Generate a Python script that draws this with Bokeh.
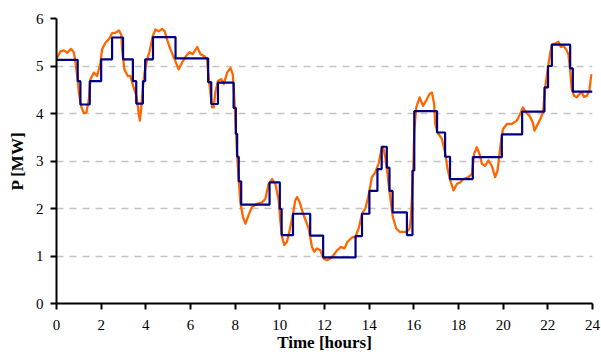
from bokeh.plotting import figure
from bokeh.models import Range1d, FixedTicker
from bokeh.embed import file_html
from bokeh.resources import INLINE

# Measured power (orange)
meas_hours = [0.0, 0.18, 0.33, 0.48, 0.66, 0.78, 0.85, 0.93, 1.0, 1.1, 1.22, 1.34, 1.45, 1.52, 1.67, 1.82,
              1.97, 2.04, 2.19, 2.34, 2.49, 2.64, 2.79, 2.9, 2.94, 3.04, 3.19, 3.31, 3.43, 3.58, 3.68, 3.73,
              3.79, 3.85, 3.94, 4.06, 4.17, 4.31, 4.43, 4.58, 4.73, 4.85, 4.95, 5.1, 5.29, 5.47, 5.62, 5.8,
              5.95, 6.1, 6.3, 6.44, 6.64, 6.74, 6.79, 6.89, 6.97, 7.04, 7.11, 7.23, 7.38, 7.49, 7.64, 7.79,
              7.89, 7.95, 8.01, 8.08, 8.16, 8.23, 8.35, 8.46, 8.6, 8.75, 8.98, 9.2, 9.35, 9.5, 9.65, 9.8,
              9.95, 10.02, 10.1, 10.2, 10.32, 10.44, 10.59, 10.69, 10.77, 10.89, 11.04, 11.19, 11.29, 11.44,
              11.54, 11.66, 11.81, 11.96, 12.11, 12.33, 12.56, 12.74, 12.89, 13.03, 13.23, 13.38, 13.53,
              13.68, 13.83, 13.97, 14.12, 14.27, 14.42, 14.54, 14.62, 14.72, 14.82, 14.94, 15.06, 15.21,
              15.36, 15.54, 15.69, 15.81, 15.87, 15.93, 15.97, 16.02, 16.11, 16.26, 16.41, 16.55, 16.7,
              16.81, 16.91, 16.96, 17.06, 17.26, 17.4, 17.51, 17.63, 17.78, 17.93, 18.08, 18.22, 18.45,
              18.6, 18.7, 18.82, 18.94, 19.05, 19.19, 19.34, 19.49, 19.64, 19.75, 19.87, 19.99, 20.17,
              20.39, 20.61, 20.76, 20.88, 21.03, 21.18, 21.33, 21.4, 21.51, 21.66, 21.78, 21.85, 21.91,
              22.0, 22.1, 22.18, 22.33, 22.48, 22.58, 22.7, 22.82, 22.92, 23.0, 23.07, 23.18, 23.3, 23.41,
              23.52, 23.62, 23.74, 23.86, 23.92, 23.96]
meas_mw = [5.15, 5.31, 5.33, 5.28, 5.36, 5.28, 5.07, 4.79, 4.44, 4.16, 4.01, 4.02, 4.3, 4.72, 4.86, 4.79,
           5.07, 5.35, 5.49, 5.56, 5.69, 5.7, 5.75, 5.66, 5.35, 4.93, 4.79, 4.79, 4.58, 4.37, 4.02, 3.85,
           4.09, 4.44, 4.86, 5.14, 5.31, 5.63, 5.77, 5.73, 5.78, 5.73, 5.56, 5.35, 5.14, 4.93, 5.07, 5.21,
           5.29, 5.25, 5.4, 5.25, 5.2, 5.14, 4.86, 4.44, 4.13, 4.13, 4.44, 4.69, 4.72, 4.62, 4.86, 4.96,
           4.83, 4.44, 3.88, 3.18, 2.62, 2.13, 1.82, 1.68, 1.86, 2.03, 2.1, 2.13, 2.2, 2.52, 2.62, 2.52,
           2.17, 1.75, 1.4, 1.23, 1.3, 1.54, 1.89, 2.17, 2.24, 2.13, 1.89, 1.71, 1.58, 1.19,
           1.09, 1.16, 1.12, 0.95, 0.91, 0.97, 1.12, 1.19, 1.16, 1.3, 1.39, 1.4, 1.58,
           1.89, 2.0, 2.27, 2.66, 2.76, 2.94, 3.22, 3.3, 3.08, 2.73, 2.24, 1.82, 1.58,
           1.51, 1.51, 1.51, 1.58, 1.82, 2.38, 2.8, 3.64, 4.13, 4.34, 4.16, 4.27, 4.41,
           4.44, 4.2, 3.78, 3.6, 3.46, 3.18, 2.83, 2.59, 2.38, 2.52, 2.55, 2.62, 2.66,
           2.73, 3.15, 3.29, 3.15, 2.94, 2.9, 3.01, 2.9, 2.66, 2.8, 3.29, 3.67, 3.78,
           3.78, 3.85, 3.99, 4.13, 4.02, 3.95, 3.81, 3.64, 3.74, 3.88, 4.02, 4.37, 4.65,
           4.96, 5.25, 5.45, 5.47, 5.51, 5.4, 5.42, 5.35, 5.25, 4.9, 4.51, 4.37, 4.34, 4.41,
           4.44, 4.35, 4.37, 4.48, 4.72, 4.83]

# Stepped schedule (navy): start hour of each step and its level
step_hours = [0.0, 0.95, 1.07, 1.49, 2.0, 2.49, 2.98, 3.42, 3.57, 3.87, 3.97, 4.32, 5.33, 6.79, 6.93,
              7.23, 7.93, 8.03, 8.09, 8.16, 8.27, 9.54, 10.0, 10.08, 10.59, 11.36, 11.94, 13.39, 13.68,
              14.01, 14.37, 14.56, 14.79, 14.91, 15.05, 15.69, 15.94, 16.02, 17.04, 17.4, 17.62, 18.64,
              19.94, 20.85, 21.85, 22.01, 22.18, 23.0, 23.12, 24.0]
step_mw = [5.13, 4.68, 4.19, 4.68, 5.14, 5.6, 5.14, 4.68, 4.21, 4.68, 5.14, 5.61, 5.16, 4.66, 4.2,
           4.65, 4.12, 3.57, 3.09, 2.57, 2.08, 2.55, 1.99, 1.44, 1.89, 1.43, 0.97, 1.42, 1.89,
           2.37, 2.83, 3.3, 2.86, 2.37, 1.92, 1.44, 2.8, 4.05, 3.6, 3.09, 2.62, 3.08,
           3.56, 4.04, 4.55, 5.0, 5.45, 4.95, 4.46, 4.46]

x_ticks = [0, 2, 4, 6, 8, 10, 12, 14, 16, 18, 20, 22, 24]
y_ticks = [0, 1, 2, 3, 4, 5, 6]

p = figure(width=601, height=356, output_backend="svg", toolbar_location=None,
           x_range=Range1d(0, 24), y_range=Range1d(0, 6),
           min_border_left=56, min_border_right=9, min_border_top=18, min_border_bottom=53)
p.outline_line_color = None
p.background_fill_color = "white"
p.border_fill_color = "white"

p.xgrid.grid_line_color = None
p.ygrid.grid_line_color = "#c4c4c4"
p.ygrid.grid_line_dash = "7 6"
p.ygrid.grid_line_width = 1.3
p.ygrid.ticker = FixedTicker(ticks=y_ticks)

p.xaxis.ticker = FixedTicker(ticks=x_ticks)
p.yaxis.ticker = FixedTicker(ticks=y_ticks)
for ax in (p.xaxis, p.yaxis):
    ax.axis_line_color = "black"
    ax.axis_line_width = 2
    ax.major_tick_line_color = "black"
    ax.major_tick_line_width = 2
    ax.major_tick_out = 6
    ax.major_tick_in = 0
    ax.minor_tick_line_color = None
    ax.major_label_text_font = "Liberation Serif"
    ax.major_label_text_font_size = "15px"
    ax.major_label_text_color = "black"
    ax.axis_label_text_font = "Liberation Serif"
    ax.axis_label_text_font_style = "bold"
    ax.axis_label_text_font_size = "17px"
    ax.axis_label_text_color = "black"

p.xaxis.axis_label = "Time [hours]"
p.yaxis.axis_label = "P [MW]"
p.xaxis.major_label_standoff = 10
p.yaxis.major_label_standoff = 7
p.xaxis.axis_label_standoff = 0
p.yaxis.axis_label_standoff = 6

p.line(meas_hours, meas_mw, line_color="#FF6600", line_width=2.3, line_join="round")
p.step(step_hours, step_mw, mode="after", line_color="#000080", line_width=2.2)

open("out.html", "w").write(file_html(p, INLINE))
